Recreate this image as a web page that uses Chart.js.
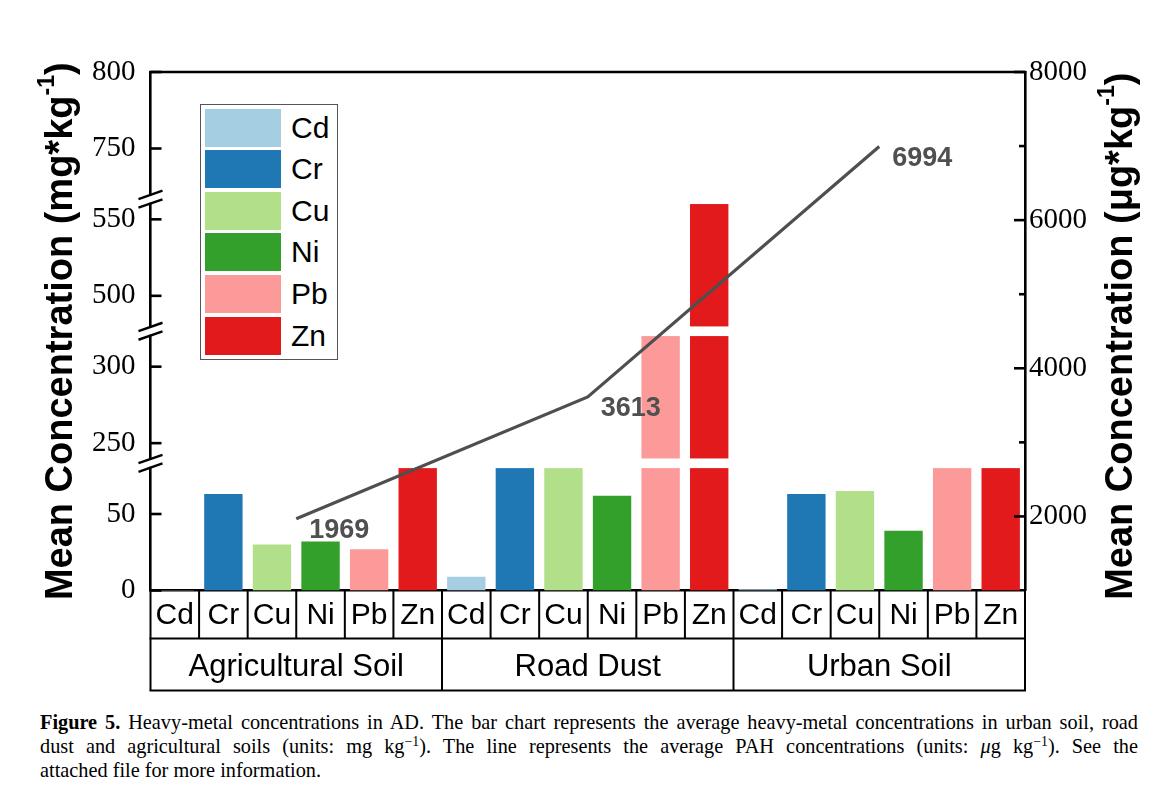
<!DOCTYPE html>
<html><head><meta charset="utf-8">
<script src="https://cdn.jsdelivr.net/npm/chart.js@4.4.1/dist/chart.umd.min.js"></script>
<style>
html,body{margin:0;padding:0;background:#fff;}
#wrap{position:relative;width:1154px;height:801px;overflow:hidden;background:#fff;}
#c{position:absolute;left:0;top:0;}
#legend{position:absolute;left:200px;top:104px;width:138px;height:256px;border:1.3px solid #555;box-sizing:border-box;background:#fff;}
.sw{position:absolute;left:4px;width:76px;height:38px;}
.lt{position:absolute;left:90px;font:30px "Liberation Sans",Arial,sans-serif;line-height:38px;color:#000;}
#cap{position:absolute;left:40px;top:710px;width:1098px;font:20.3px "Liberation Serif","Times New Roman",serif;line-height:24px;color:#000;}
#cap .j{text-align:justify;text-align-last:justify;white-space:normal;}
#cap sup{font-size:0.68em;line-height:0;vertical-align:0.5em;}
</style></head>
<body>
<div id="wrap">
<canvas id="c" width="1154" height="700"></canvas>
<div id="legend"></div>
<div id="cap">
<div class="j"><b>Figure 5.</b> Heavy-metal concentrations in AD. The bar chart represents the average heavy-metal concentrations in urban soil, road</div>
<div class="j">dust and agricultural soils (units: mg kg<sup>−1</sup>). The line represents the average PAH concentrations (units: <i>μ</i>g kg<sup>−1</sup>). See the</div>
<div>attached file for more information.</div>
</div>
</div>
<script>
// ---------------- data ----------------
const groups = ['Agricultural Soil', 'Road Dust', 'Urban Soil'];
const metals = ['Cd', 'Cr', 'Cu', 'Ni', 'Pb', 'Zn'];
const agriculturalSoil = [0.3, 63, 30, 32, 27, 105];
const roadDust = [9, 110, 120, 62, 320, 560];
const urbanSoil = [0.8, 63, 65, 39, 100, 110];
const pahValues = [1969, 3613, 6994];
const leftTicks = [0, 50, 250, 300, 500, 550, 750, 800];
const rightTicks = [2000, 4000, 6000, 8000];
const rightMinorTicks = [3000, 5000, 7000];
const axisSegments = [[0, 80], [240, 320], [480, 560], [720, 800]];
const metalColors = ['#a6cee3', '#1f78b4', '#b2df8a', '#33a02c', '#fb9a99', '#e31a1c'];

// ---------------- broken axis ----------------
const GAP = 6.3;
function toT(v) {
  let t = 0;
  for (let i = 0; i < axisSegments.length; i++) {
    const lo = axisSegments[i][0], hi = axisSegments[i][1];
    if (i > 0) { if (v < lo) return t; t += GAP; }
    if (v <= hi || i === axisSegments.length - 1) return t + (v - lo);
    t += hi - lo;
  }
  return t;
}
const T_MAX = toT(axisSegments[axisSegments.length - 1][1]);

class BrokenScale extends Chart.LinearScale {
  getPixelForValue(v) { return super.getPixelForValue(toT(v)); }
}
BrokenScale.id = 'broken';
BrokenScale.defaults = Chart.LinearScale.defaults;
Chart.register(BrokenScale);

// ---------------- build chart data ----------------
const labels = [];
const barValues = [];
const barColors = [];
[agriculturalSoil, roadDust, urbanSoil].forEach(arr => {
  arr.forEach((v, i) => { labels.push(metals[i]); barValues.push(v); barColors.push(metalColors[i]); });
});
const nCat = labels.length;
const linePoints = pahValues.map((v, i) => ({ x: metals.length * i + metals.length / 2, y: v }));

// legend (HTML)
const lg = document.getElementById('legend');
metals.forEach((m, i) => {
  const s = document.createElement('div'); s.className = 'sw';
  s.style.top = (3.5 + i * 41.6) + 'px'; s.style.background = metalColors[i]; lg.appendChild(s);
  const t = document.createElement('div'); t.className = 'lt';
  t.style.top = (3.5 + i * 41.6) + 'px'; t.textContent = m; lg.appendChild(t);
});

const SANS = '"Liberation Sans", Arial, sans-serif';
const SERIF = '"Liberation Serif", "Times New Roman", serif';

function rotTitle(ctx, cx, cy, main, sup, tail, size) {
  ctx.save();
  ctx.translate(cx, cy);
  ctx.rotate(-Math.PI / 2);
  ctx.fillStyle = '#000';
  ctx.textBaseline = 'middle';
  ctx.textAlign = 'left';
  const f1 = 'bold ' + size + 'px ' + SANS;
  const f2 = 'bold ' + Math.round(size * 0.6) + 'px ' + SANS;
  ctx.font = f1; const w1 = ctx.measureText(main).width; const w3 = ctx.measureText(tail).width;
  ctx.font = f2; const w2 = ctx.measureText(sup).width;
  let x = -(w1 + w2 + w3) / 2;
  ctx.font = f1; ctx.fillText(main, x, 0); x += w1;
  ctx.font = f2; ctx.fillText(sup, x, -size * 0.38); x += w2;
  ctx.font = f1; ctx.fillText(tail, x, 0);
  ctx.restore();
}

const deco = {
  id: 'deco',
  beforeDatasetDraw(chart, args) {
    if (args.index !== 1) return;
    const y = chart.scales.y, ca = chart.chartArea, ctx = chart.ctx;
    ctx.save(); ctx.fillStyle = '#fff';
    for (let i = 0; i < axisSegments.length - 1; i++) {
      const pTop = y.getPixelForValue(axisSegments[i + 1][0]);
      const pBot = y.getPixelForValue(axisSegments[i][1]);
      ctx.fillRect(ca.left + 2, pTop, ca.right - ca.left - 4, pBot - pTop);
    }
    ctx.restore();
  },
  afterDatasetsDraw(chart) {
    const ctx = chart.ctx;
    const meta = chart.getDatasetMeta(1);
    ctx.save();
    ctx.font = 'bold 27px ' + SANS; ctx.fillStyle = '#505050';
    ctx.textAlign = 'center'; ctx.textBaseline = 'middle';
    meta.data.forEach((p, i) => { ctx.fillText(String(pahValues[i]), p.x + 43, p.y + 12); });
    ctx.restore();
  },
  afterDraw(chart) {
    const ctx = chart.ctx, ca = chart.chartArea;
    const y = chart.scales.y, y2 = chart.scales.y2, x2 = chart.scales.x2;
    ctx.save();
    ctx.strokeStyle = '#000'; ctx.lineCap = 'butt';
    // top frame
    ctx.lineWidth = 2.6;
    ctx.beginPath(); ctx.moveTo(ca.left - 1.3, ca.top); ctx.lineTo(ca.right + 1.3, ca.top); ctx.stroke();
    // left ticks (inward)
    leftTicks.forEach(v => {
      const p = y.getPixelForValue(v);
      ctx.beginPath(); ctx.moveTo(ca.left, p); ctx.lineTo(ca.left + 11, p); ctx.stroke();
    });
    // right ticks (inward)
    rightTicks.forEach(v => {
      const p = y2.getPixelForValue(v);
      ctx.beginPath(); ctx.moveTo(ca.right, p); ctx.lineTo(ca.right - 11, p); ctx.stroke();
    });
    rightMinorTicks.forEach(v => {
      const p = y2.getPixelForValue(v);
      ctx.beginPath(); ctx.moveTo(ca.right, p); ctx.lineTo(ca.right - 6, p); ctx.stroke();
    });
    // axis breaks
    for (let i = 0; i < axisSegments.length - 1; i++) {
      const yc = (y.getPixelForValue(axisSegments[i][1]) + y.getPixelForValue(axisSegments[i + 1][0])) / 2;
      ctx.fillStyle = '#fff';
      ctx.fillRect(ca.left - 3, yc - 3.5, 6, 7);
      ctx.lineWidth = 2.4;
      [-4.3, 4.3].forEach(d => {
        ctx.beginPath(); ctx.moveTo(ca.left - 12, yc + d + 4.2); ctx.lineTo(ca.left + 12, yc + d - 4.2); ctx.stroke();
      });
    }
    // category table
    ctx.lineWidth = 2;
    const b0 = ca.bottom, b1 = ca.bottom + 48, b2 = ca.bottom + 100;
    for (let i = 0; i <= nCat; i++) {
      const px = x2.getPixelForValue(i);
      ctx.beginPath(); ctx.moveTo(px, b0); ctx.lineTo(px, b1); ctx.stroke();
    }
    for (let g = 0; g <= groups.length; g++) {
      const px = x2.getPixelForValue(g * metals.length);
      ctx.beginPath(); ctx.moveTo(px, b1); ctx.lineTo(px, b2); ctx.stroke();
    }
    [b1, b2].forEach(yy => {
      ctx.beginPath(); ctx.moveTo(ca.left - 1, yy); ctx.lineTo(ca.right + 1, yy); ctx.stroke();
    });
    ctx.restore();
    // axis titles
    const mid = (ca.top + ca.bottom) / 2;
    rotTitle(ctx, 62, mid, 'Mean Concentration (mg*kg', '-1', ')', 38);
    rotTitle(ctx, 1122, mid + 5, 'Mean Concentration (\u03bcg*kg', '-1', ')', 38);
  }
};

new Chart(document.getElementById('c'), {
  type: 'bar',
  data: {
    labels: labels,
    datasets: [
      {
        type: 'bar', data: barValues, backgroundColor: barColors, borderWidth: 0,
        xAxisID: 'x', yAxisID: 'y', order: 1, grouped: false,
        categoryPercentage: 1, barPercentage: 0.79
      },
      {
        type: 'line', data: linePoints, borderColor: '#4f4f4f', borderWidth: 3.2,
        pointRadius: 0, tension: 0, fill: false, xAxisID: 'x2', yAxisID: 'y2', order: 0
      }
    ]
  },
  options: {
    responsive: false, animation: false, events: [],
    layout: { autoPadding: false, padding: { top: 72, left: 0, right: 0, bottom: 9.5 } },
    plugins: { legend: { display: false }, tooltip: { enabled: false }, title: { display: false } },
    scales: {
      y: {
        type: 'broken', position: 'left', min: 0, max: T_MAX, bounds: 'data',
        afterBuildTicks: s => { s.ticks = leftTicks.map(v => ({ value: v })); },
        afterFit: s => { s.width = 150.5; },
        grid: { display: false, drawTicks: false },
        border: { display: true, color: '#000', width: 2.6 },
        ticks: { autoSkip: false, padding: 15, color: '#000', font: { family: SERIF, size: 29 }, callback: v => String(v) }
      },
      y2: {
        type: 'linear', position: 'right', min: 1000, max: 8000, bounds: 'data',
        afterBuildTicks: s => { s.ticks = rightTicks.map(v => ({ value: v })); },
        afterFit: s => { s.width = 129; },
        grid: { display: false, drawTicks: false },
        border: { display: true, color: '#000', width: 2.6 },
        ticks: { autoSkip: false, padding: 4, color: '#000', font: { family: SERIF, size: 29 }, callback: v => String(v) }
      },
      x: {
        type: 'category', position: 'bottom', offset: true, weight: 0,
        afterFit: s => { s.height = 48; },
        grid: { display: false, drawTicks: false },
        border: { display: true, color: '#000', width: 2.6 },
        ticks: { autoSkip: false, maxRotation: 0, minRotation: 0, padding: 7, color: '#000', font: { family: SANS, size: 30 } }
      },
      x3: {
        type: 'category', position: 'bottom', labels: groups, offset: true, weight: 1,
        afterFit: s => { s.height = 52; },
        grid: { display: false, drawTicks: false },
        border: { display: false },
        ticks: { autoSkip: false, maxRotation: 0, minRotation: 0, padding: 10, color: '#000', font: { family: SANS, size: 31 } }
      },
      x2: { type: 'linear', display: false, min: 0, max: nCat, offset: false, grid: { offset: false } }
    }
  },
  plugins: [deco]
});
</script>
</body></html>
